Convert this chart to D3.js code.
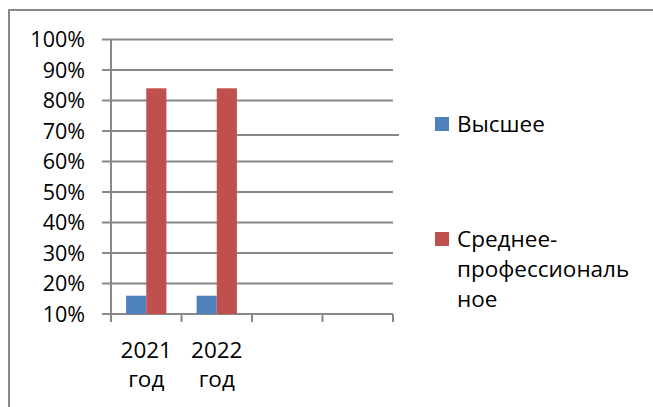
<!DOCTYPE html>
<html>
<head>
<meta charset="utf-8">
<script src="https://cdn.jsdelivr.net/npm/d3@7/dist/d3.min.js"></script>
<style>
    body { margin: 0; background: #fff; }
    svg { display: block; font-family: "Open Sans", "Liberation Sans", sans-serif; }
</style>
</head>
<body>
<svg id="chart" width="653" height="407"></svg>
<script>
// Education levels by year
const categories = ["2021 год", "2022 год", "", " "];
const seriesNames = ["Высшее", "Среднее-профессиональное"];
const higher = [0.16, 0.16, null, null];
const secondary = [0.84, 0.84, null, null];
const yTicks = [0.1, 0.2, 0.3, 0.4, 0.5, 0.6, 0.7, 0.8, 0.9, 1.0];
const legendLines = [["Высшее"], ["Среднее-", "профессиональ", "ное"]];

const colors = ["#4f81bd", "#c0504d"];
const gridColor = "#888888";

const svg = d3.select("#chart");

// outer frame (runs off the right/bottom edge like the source)
svg.append("rect")
    .attr("x", 9).attr("y", 10)
    .attr("width", 700).attr("height", 450)
    .attr("fill", "none")
    .attr("stroke", gridColor)
    .attr("stroke-width", 2);

const x = d3.scaleBand()
    .domain(categories)
    .range([111, 393]);

const y = d3.scaleLinear()
    .domain([0.1, 1.0])
    .range([314, 39.5]);

// inner band for the two series, Excel gap width 150%
const sub = d3.scaleBand()
    .domain([0, 1])
    .range([0, x.bandwidth()])
    .paddingOuter(0.75)
    .paddingInner(0);

// gridlines
svg.append("g")
    .selectAll("line")
    .data(yTicks)
    .enter()
    .append("line")
    .attr("x1", 102)
    .attr("x2", d => d === 0.7 ? x(categories[1]) + sub(1) + sub.bandwidth() : 393)
    .attr("y1", d => y(d))
    .attr("y2", d => y(d))
    .attr("stroke", gridColor)
    .attr("stroke-width", 2);

// the odd shifted piece of the 70% line on the right
svg.append("line")
    .attr("x1", x(categories[1]) + sub(1) + sub.bandwidth())
    .attr("x2", 399)
    .attr("y1", y(0.7) + 4)
    .attr("y2", y(0.7) + 4)
    .attr("stroke", gridColor)
    .attr("stroke-width", 2);

// y axis line
svg.append("line")
    .attr("x1", 111).attr("x2", 111)
    .attr("y1", y(1.0)).attr("y2", 322)
    .attr("stroke", gridColor)
    .attr("stroke-width", 2);

// category ticks
const tickPos = categories.map(c => x(c)).concat([x.range()[1]]);
svg.append("g")
    .selectAll("line")
    .data(tickPos)
    .enter()
    .append("line")
    .attr("x1", d => d).attr("x2", d => d)
    .attr("y1", y(0.1)).attr("y2", 322)
    .attr("stroke", gridColor)
    .attr("stroke-width", 2);

// y labels
svg.append("g")
    .selectAll("text")
    .data(yTicks)
    .enter()
    .append("text")
    .attr("x", 85)
    .attr("y", d => y(d) + 7.5)
    .attr("text-anchor", "end")
    .attr("font-size", 21.5)
    .attr("fill", "#000")
    .text(d => d3.format(".0%")(d));

// bars
[higher, secondary].forEach((values, si) => {
    svg.append("g")
        .selectAll("rect")
        .data(categories.map((c, i) => ({ c, v: values[i] })).filter(d => d.v != null))
        .enter()
        .append("rect")
        .attr("x", d => x(d.c) + sub(si))
        .attr("width", sub.bandwidth())
        .attr("y", d => y(d.v))
        .attr("height", d => y(0.1) - y(d.v))
        .attr("fill", colors[si]);
});

// category labels, two lines each
categories.forEach(c => {
    const parts = c.trim().split(" ").filter(p => p);
    const t = svg.append("text")
        .attr("text-anchor", "middle")
        .attr("font-size", 22.5)
        .attr("fill", "#000");
    parts.forEach((p, i) => {
        t.append("tspan")
            .attr("x", x(c) + x.bandwidth() / 2)
            .attr("y", 358 + i * 29)
            .text(p);
    });
});

// legend
const legendY = [131.5, 246.5];
legendLines.forEach((lines, i) => {
    svg.append("rect")
        .attr("x", 435).attr("y", legendY[i] - 14.5)
        .attr("width", 14).attr("height", 14)
        .attr("fill", colors[i]);
    const t = svg.append("text")
        .attr("font-size", 22.5)
        .attr("fill", "#000");
    lines.forEach((l, j) => {
        t.append("tspan")
            .attr("x", 457)
            .attr("y", legendY[i] + j * 30)
            .text(l);
    });
});
</script>
</body>
</html>
